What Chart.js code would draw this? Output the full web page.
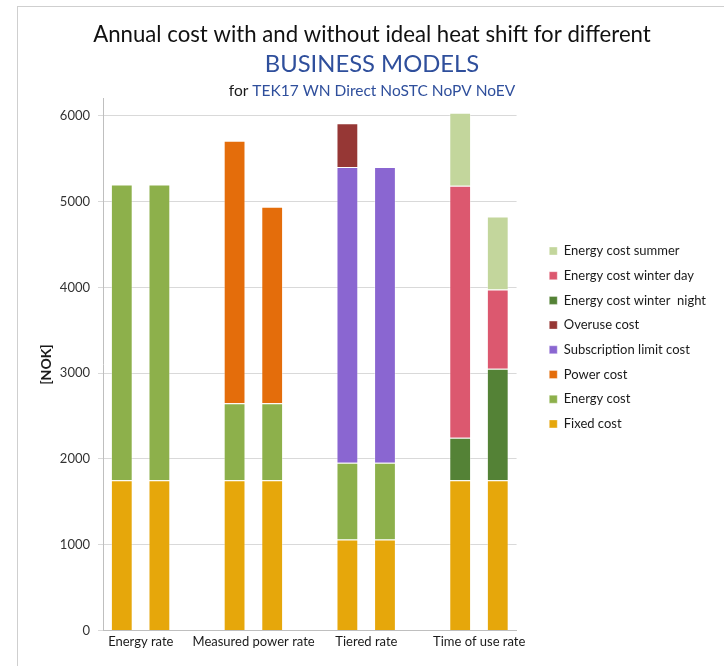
<!DOCTYPE html>
<html>
<head>
<meta charset="utf-8">
<script src="https://cdn.jsdelivr.net/npm/chart.js@4.4.1/dist/chart.umd.min.js"></script>
<style>
  html, body { margin: 0; padding: 0; background: #fff; }
  #wrap { position: relative; width: 724px; height: 666px; overflow: hidden; }
  #frame { position: absolute; left: 17px; top: 6px; width: 900px; height: 900px; border: 1px solid #cfcfcf; }
  canvas { position: absolute; left: 0; top: 0; }
</style>
</head>
<body>
<div id="wrap">
  <div id="frame"></div>
  <canvas id="costChart" width="724" height="666"></canvas>
</div>
<script>
// business models, two bars each (without / with ideal heat shift), empty slot between groups
const rateGroups = ['Energy rate', 'Measured power rate', 'Tiered rate', 'Time of use rate'];
const slotLabels = rateGroups.flatMap((g, i) => i < rateGroups.length - 1 ? [g, '', ''] : [g, '']);

// cost components [NOK], one value per slot
const fixedCost        = [1750, 1750, null, 1750, 1750, null, 1060, 1060, null, 1750, 1750];
const energyCost       = [3450, 3450, null,  900,  900, null,  895,  895, null, null, null];
const powerCost        = [null, null, null, 3060, 2290, null, null, null, null, null, null];
const subscriptionCost = [null, null, null, null, null, null, 3450, 3450, null, null, null];
const overuseCost      = [null, null, null, null, null, null,  510, null, null, null, null];
const winterNightCost  = [null, null, null, null, null, null, null, null, null,  495, 1300];
const winterDayCost    = [null, null, null, null, null, null, null, null, null, 2940,  925];
const summerCost       = [null, null, null, null, null, null, null, null, null,  850,  850];

const yTicks = [0, 1000, 2000, 3000, 4000, 5000, 6000];

const FONT = 'Lato';
const BLUE = '#2f4f9c';

// troisième ligne du titre (deux couleurs)
const modelLine = {
    id: 'modelLine',
    afterDraw(chart) {
        const ctx = chart.ctx;
        const a = 'for ';
        const b = 'TEK17 WN Direct NoSTC NoPV NoEV';
        ctx.save();
        ctx.font = '15.5px ' + FONT;
        ctx.textBaseline = 'middle';
        const wa = ctx.measureText(a).width;
        const wb = ctx.measureText(b).width;
        const x0 = 372 - (wa + wb) / 2;
        ctx.fillStyle = '#1a1a1a';
        ctx.fillText(a, x0, 91);
        ctx.fillStyle = BLUE;
        ctx.fillText(b, x0 + wa, 91);
        ctx.restore();
    }
};

function ds(label, data, color) {
    return {
        label: label,
        data: data,
        backgroundColor: color,
        borderColor: 'rgba(255,255,255,0.35)',
        borderWidth: 1,
        stack: 'cost'
    };
}

const datasets = [
    ds('Fixed cost', fixedCost, '#e6a70b'),
    ds('Energy cost', energyCost, '#8db04b'),
    ds('Power cost', powerCost, '#e46d0b'),
    ds('Subscription limit cost', subscriptionCost, '#8a66d1'),
    ds('Overuse cost', overuseCost, '#963735'),
    ds('Energy cost winter  night', winterNightCost, '#548236'),
    ds('Energy cost winter day', winterDayCost, '#dc586f'),
    ds('Energy cost summer', summerCost, '#c3d69c')
];

Chart.defaults.font.family = FONT;
Chart.defaults.color = '#222';

new Chart(document.getElementById('costChart'), {
    type: 'bar',
    data: { labels: slotLabels, datasets },
    options: {
        responsive: false,
        animation: false,
        layout: { padding: { left: 28, right: 8, top: 0, bottom: 12 } },
        datasets: { bar: { categoryPercentage: 1, barPercentage: 0.58 } },
        scales: {
            x: {
                stacked: true,
                grid: { display: false, drawTicks: false },
                border: { display: true, color: '#bfbfbf' },
                ticks: {
                    autoSkip: false, maxRotation: 0, minRotation: 0,
                    labelOffset: 19, padding: 4,
                    font: { size: 13 }, color: '#1a1a1a'
                }
            },
            y: {
                stacked: true,
                min: 0,
                max: 6200,
                afterBuildTicks: s => { s.ticks = yTicks.map(v => ({ value: v })); },
                afterFit: s => { s.width = 75; },
                grid: { color: '#d9d9d9', tickLength: 5 },
                border: { color: '#bfbfbf' },
                ticks: { padding: 8, font: { size: 13 }, color: '#333', callback: v => String(v) },
                title: {
                    display: true, text: '[NOK]',
                    font: { size: 14, weight: 'bold' }, color: '#1a1a1a',
                    padding: { top: 10, bottom: 0 }
                }
            },
            gap: {
                position: 'right',
                display: true,
                grid: { display: false },
                border: { display: false },
                ticks: { display: false },
                afterFit: s => { s.width = 21; }
            }
        },
        plugins: {
            title: {
                display: true,
                text: 'Annual cost with and without ideal heat shift for different',
                font: { size: 22.2, weight: 'normal' },
                color: '#111',
                padding: { top: 21.5, bottom: 2 }
            },
            subtitle: {
                display: true,
                text: 'BUSINESS MODELS',
                font: { size: 23.8 },
                color: BLUE,
                padding: { top: 0, bottom: 20 }
            },
            legend: {
                position: 'right',
                align: 'start',
                reverse: true,
                maxWidth: 220,
                title: { display: true, text: '', font: { size: 10 }, padding: { top: 0, bottom: 220.8 } },
                labels: { boxWidth: 8, boxHeight: 8, padding: 11.7, font: { size: 13 }, color: '#1a1a1a' }
            },
            tooltip: { enabled: false }
        }
    },
    plugins: [modelLine]
});
</script>
</body>
</html>
